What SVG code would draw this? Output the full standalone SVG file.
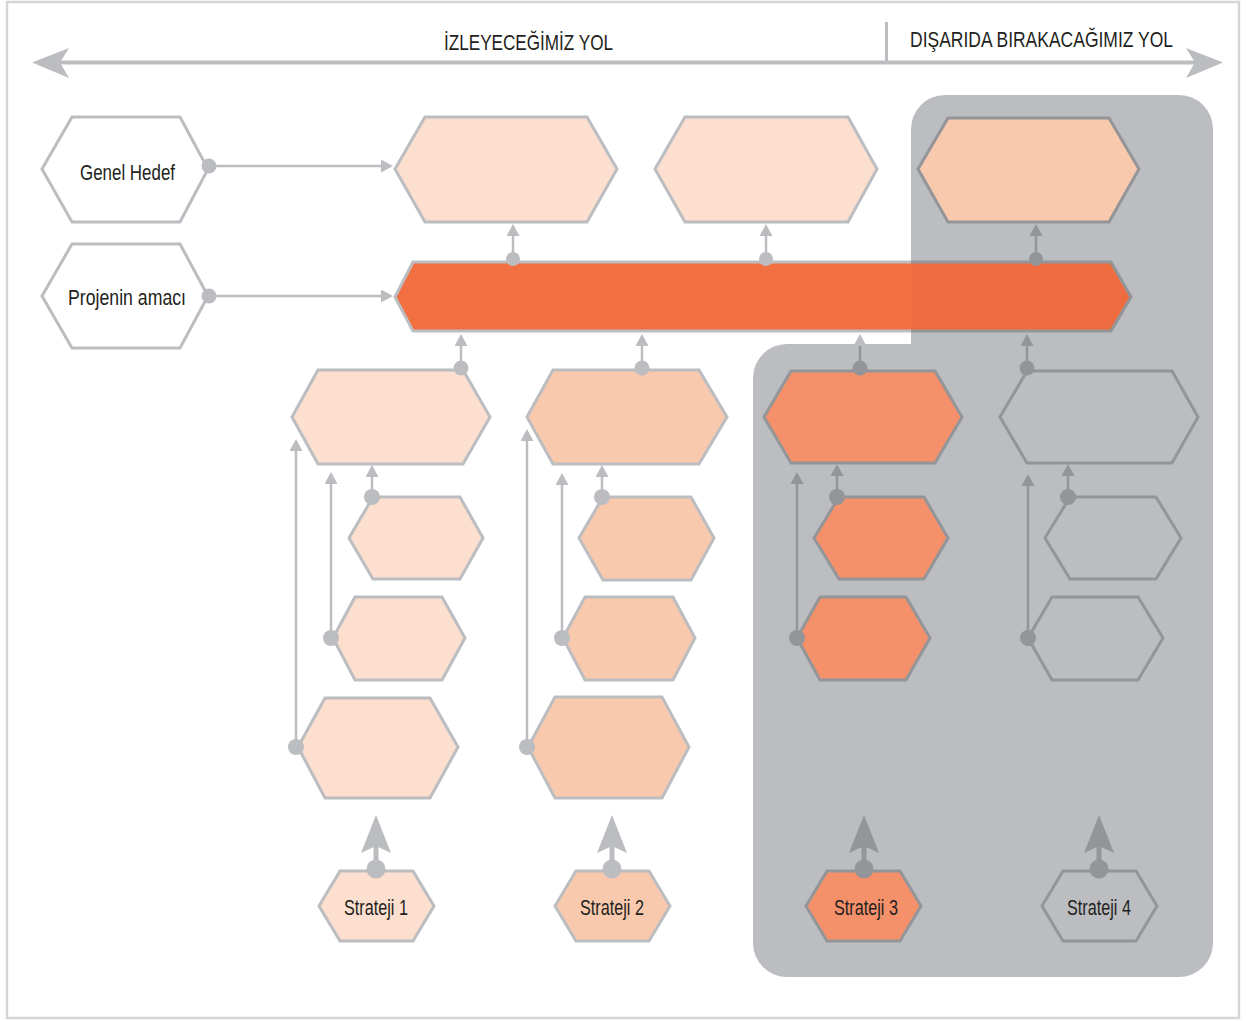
<svg xmlns="http://www.w3.org/2000/svg" width="1246" height="1021" viewBox="0 0 1246 1021">
<style>
  .t{font-family:"Liberation Sans Narrow","Liberation Sans",Arial,sans-serif;font-size:22.5px;fill:#231f20;text-anchor:middle}
  .hl{stroke:#bcbdc0;stroke-width:3;stroke-linejoin:miter}
  .hd{stroke:#939598;stroke-width:3;stroke-linejoin:miter}
  .f0{fill:#ffffff}
  .f1{fill:#fcdfcf}
  .f2{fill:#f9c9ad}
  .f3{fill:#f5916a}
  .fn{fill:none}
  .cl{stroke:#bcbdc0;stroke-width:2.5;fill:none}
  .cd{stroke:#939598;stroke-width:2.5;fill:none}
  .dl{fill:#bcbdc0}
  .dd{fill:#939598}
</style>
<defs>
  <marker id="al" markerUnits="userSpaceOnUse" markerWidth="14" markerHeight="14" refX="5" refY="6.5" orient="auto">
    <path d="M0,0 L12,6.5 L0,13 z" fill="#bcbdc0"/>
  </marker>
  <marker id="ad" markerUnits="userSpaceOnUse" markerWidth="14" markerHeight="14" refX="5" refY="6.5" orient="auto">
    <path d="M0,0 L12,6.5 L0,13 z" fill="#939598"/>
  </marker>
  <marker id="bl" markerUnits="userSpaceOnUse" markerWidth="40" markerHeight="32" refX="10" refY="15" orient="auto">
    <path d="M0,0 L38,15 L0,30 L7,15 z" fill="#bcbdc0"/>
  </marker>
  <marker id="bd" markerUnits="userSpaceOnUse" markerWidth="40" markerHeight="32" refX="10" refY="15" orient="auto">
    <path d="M0,0 L38,15 L0,30 L7,15 z" fill="#939598"/>
  </marker>
  <clipPath id="panelClip">
    <path d="M945 95 H1179 A34 34 0 0 1 1213 129 V943 A34 34 0 0 1 1179 977 H787 A34 34 0 0 1 753 943 V378 A34 34 0 0 1 787 344 H911 V129 A34 34 0 0 1 945 95 Z"/>
  </clipPath>
</defs>

<rect x="7" y="2" width="1232" height="1016" fill="#ffffff" stroke="#d4d5d7" stroke-width="2.5"/>

<g id="header">
  <line x1="60" y1="62.5" x2="1195" y2="62.5" stroke="#bcbdc0" stroke-width="4"/>
  <polygon points="32,62.5 69,48 60,62.5 69,78" fill="#bcbdc0"/>
  <polygon points="1223,62.5 1186,48 1195,62.5 1186,78" fill="#bcbdc0"/>
  <line x1="886.5" y1="22" x2="886.5" y2="62" stroke="#bcbdc0" stroke-width="3"/>
  <text class="t" x="528.5" y="50" textLength="169" lengthAdjust="spacingAndGlyphs">İZLEYECEĞİMİZ YOL</text>
  <text class="t" x="1041.5" y="47" textLength="263" lengthAdjust="spacingAndGlyphs">DIŞARIDA BIRAKACAĞIMIZ YOL</text>
</g>

<g id="panel">
  <path d="M945 95 H1179 A34 34 0 0 1 1213 129 V943 A34 34 0 0 1 1179 977 H787 A34 34 0 0 1 753 943 V378 A34 34 0 0 1 787 344 H911 V129 A34 34 0 0 1 945 95 Z" fill="#bcbdc0"/>
</g>

<g id="genel-hedef">
  <polygon class="hl f0" points="42,169 72,117 180,117 208,169 180,222 72,222"/>
  <text class="t" x="127.5" y="180" textLength="95" lengthAdjust="spacingAndGlyphs">Genel Hedef</text>
</g>
<g id="projenin-amaci">
  <polygon class="hl f0" points="42,296 72,244 180,244 208,296 180,348 72,348"/>
  <text class="t" x="127" y="305" textLength="118" lengthAdjust="spacingAndGlyphs">Projenin amacı</text>
</g>

<g id="top-1"><polygon class="hl f1" points="395,169 425,117 587,117 617,169 587,222 425,222"/></g>
<g id="top-2"><polygon class="hl f1" points="655,169 685,117 848,117 877,169 848,222 685,222"/></g>
<g id="top-3"><polygon class="hd f2" points="918,169 948,118 1109,118 1139,169 1109,222 948,222"/></g>

<g id="purpose-bar">
  <polygon class="hl" fill="#f26f42" points="395,297 413,262 1111,262 1131,297 1111,331 413,331"/>
  <g clip-path="url(#panelClip)">
    <polygon class="hd" fill="#ef6c41" points="395,297 413,262 1111,262 1131,297 1111,331 413,331"/>
  </g>
</g>

<g id="col1-main"><polygon class="hl f1" points="292,417 318,370 463,370 490,417 463,464 318,464"/></g>
<g id="col1-a"><polygon class="hl f1" points="349,538 373,497 460,497 483,538 460,579 373,579"/></g>
<g id="col1-b"><polygon class="hl f1" points="333,638 355,597 442,597 465,638 442,680 355,680"/></g>
<g id="col1-c"><polygon class="hl f1" points="298,747 325,698 430,698 458,747 430,798 325,798"/></g>

<g id="col2-main"><polygon class="hl f2" points="527,417 553,370 699,370 727,417 699,464 553,464"/></g>
<g id="col2-a"><polygon class="hl f2" points="579,538 603,497 691,497 714,538 691,580 603,580"/></g>
<g id="col2-b"><polygon class="hl f2" points="563,638 585,597 673,597 695,638 673,680 585,680"/></g>
<g id="col2-c"><polygon class="hl f2" points="528,747 555,697 662,697 689,747 662,798 555,798"/></g>

<g id="col3-main"><polygon class="hd f3" points="764,417 791,371 935,371 962,417 935,463 791,463"/></g>
<g id="col3-a"><polygon class="hd f3" points="814,538 839,497 924,497 948,538 924,579 839,579"/></g>
<g id="col3-b"><polygon class="hd f3" points="797,638 820,597 906,597 930,638 906,680 820,680"/></g>

<g id="col4-main"><polygon class="hd fn" points="1000,417 1027,371 1172,371 1198,417 1172,463 1027,463"/></g>
<g id="col4-a"><polygon class="hd fn" points="1045,538 1070,497 1156,497 1181,538 1156,579 1070,579"/></g>
<g id="col4-b"><polygon class="hd fn" points="1028,638 1052,597 1138,597 1163,638 1138,680 1052,680"/></g>

<g id="strateji-1">
  <polygon class="hl f1" points="319,906 340,871 413,871 434,906 413,941 340,941"/>
  <text class="t" x="376" y="915" textLength="64" lengthAdjust="spacingAndGlyphs">Strateji 1</text>
</g>
<g id="strateji-2">
  <polygon class="hl f2" points="555,906 576,871 649,871 670,906 649,941 576,941"/>
  <text class="t" x="612" y="915" textLength="64" lengthAdjust="spacingAndGlyphs">Strateji 2</text>
</g>
<g id="strateji-3">
  <polygon class="hd f3" points="806,906 827,871 900,871 921,906 900,941 827,941"/>
  <text class="t" x="866" y="915" textLength="64" lengthAdjust="spacingAndGlyphs">Strateji 3</text>
</g>
<g id="strateji-4">
  <polygon class="hd fn" points="1042,906 1063,871 1136,871 1157,906 1136,941 1063,941"/>
  <text class="t" x="1099" y="915" textLength="64" lengthAdjust="spacingAndGlyphs">Strateji 4</text>
</g>

<g id="connectors">
  <path class="cl" d="M209 166 H386" marker-end="url(#al)"/>
  <circle class="dl" cx="209" cy="166" r="7.5"/>
  <path class="cl" d="M209 296 H386" marker-end="url(#al)"/>
  <circle class="dl" cx="209" cy="296" r="7.5"/>

  <path class="cl" d="M513 259 V231" marker-end="url(#al)"/>
  <circle class="dl" cx="513" cy="259" r="7"/>
  <path class="cl" d="M766 259 V231" marker-end="url(#al)"/>
  <circle class="dl" cx="766" cy="259" r="7"/>
  <path class="cd" d="M1036 259 V231" marker-end="url(#ad)"/>
  <circle class="dd" cx="1036" cy="259" r="7"/>

  <path class="cl" d="M461 368 V341" marker-end="url(#al)"/>
  <circle class="dl" cx="461" cy="368" r="7.5"/>
  <path class="cl" d="M642 368 V341" marker-end="url(#al)"/>
  <circle class="dl" cx="642" cy="368" r="7.5"/>
  <path class="cd" d="M860 368 V341" marker-end="url(#al)"/>
  <circle class="dd" cx="860" cy="368" r="7.5"/>
  <path class="cd" d="M1027 368 V341" marker-end="url(#ad)"/>
  <circle class="dd" cx="1027" cy="368" r="7.5"/>

  <path class="cl" d="M372 497 V472" marker-end="url(#al)"/>
  <circle class="dl" cx="372" cy="497" r="8"/>
  <path class="cl" d="M331 638 V479" marker-end="url(#al)"/>
  <circle class="dl" cx="331" cy="638" r="8"/>
  <path class="cl" d="M296 747 V446" marker-end="url(#al)"/>
  <circle class="dl" cx="296" cy="747" r="8"/>

  <path class="cl" d="M602 497 V472" marker-end="url(#al)"/>
  <circle class="dl" cx="602" cy="497" r="8"/>
  <path class="cl" d="M562 638 V480" marker-end="url(#al)"/>
  <circle class="dl" cx="562" cy="638" r="8"/>
  <path class="cl" d="M527 747 V436" marker-end="url(#al)"/>
  <circle class="dl" cx="527" cy="747" r="8"/>

  <path class="cd" d="M837 497 V471" marker-end="url(#ad)"/>
  <circle class="dd" cx="837" cy="497" r="8"/>
  <path class="cd" d="M797 638 V479" marker-end="url(#ad)"/>
  <circle class="dd" cx="797" cy="638" r="8"/>

  <path class="cd" d="M1068 497 V471" marker-end="url(#ad)"/>
  <circle class="dd" cx="1068" cy="497" r="8"/>
  <path class="cd" d="M1028 638 V481" marker-end="url(#ad)"/>
  <circle class="dd" cx="1028" cy="638" r="8"/>

  <path d="M376 869 V843" stroke="#bcbdc0" stroke-width="5" fill="none" marker-end="url(#bl)"/>
  <circle class="dl" cx="376" cy="869" r="9.5"/>
  <path d="M612 869 V843" stroke="#bcbdc0" stroke-width="5" fill="none" marker-end="url(#bl)"/>
  <circle class="dl" cx="612" cy="869" r="9.5"/>
  <path d="M864 869 V843" stroke="#939598" stroke-width="5" fill="none" marker-end="url(#bd)"/>
  <circle class="dd" cx="864" cy="869" r="9.5"/>
  <path d="M1099 869 V843" stroke="#939598" stroke-width="5" fill="none" marker-end="url(#bd)"/>
  <circle class="dd" cx="1099" cy="869" r="9.5"/>
</g>
</svg>
